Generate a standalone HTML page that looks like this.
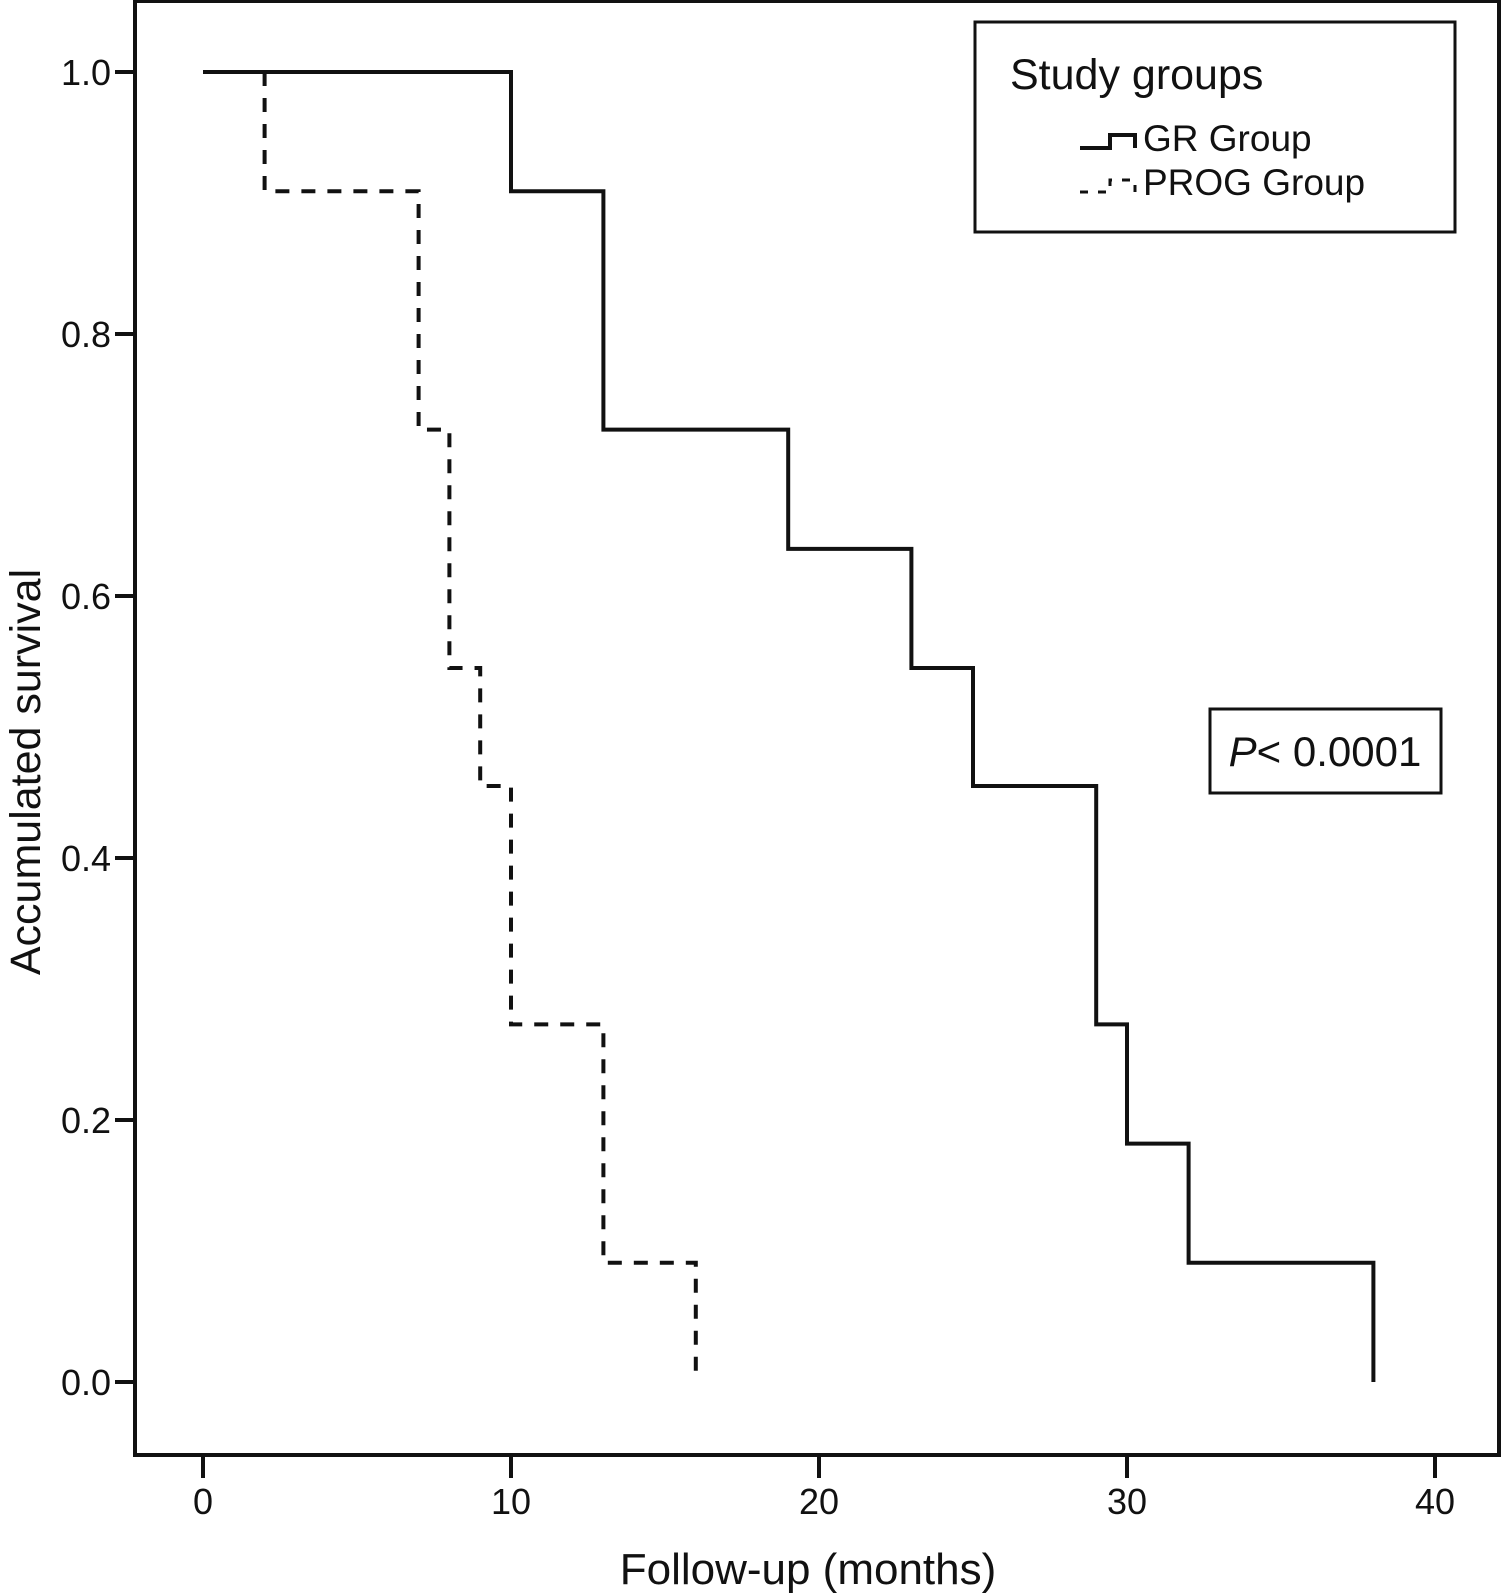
<!DOCTYPE html>
<html><head><meta charset="utf-8"><style>
html,body{margin:0;padding:0;background:#fff;}
svg{display:block;font-family:"Liberation Sans",Arial,sans-serif;}
</style></head><body>
<svg id="chart" width="1502" height="1594" viewBox="0 0 1502 1594">
<rect x="135" y="1" width="1364" height="1454" fill="none" stroke="#111" stroke-width="4"/>
<g id="axes"></g>
<g id="series"></g>
<text x="808" y="1584" font-size="44" text-anchor="middle" fill="#111">Follow-up (months)</text>
<text transform="translate(40,772) rotate(-90)" font-size="43" text-anchor="middle" fill="#111">Accumulated survival</text>
<g>
<rect x="975" y="22" width="480" height="210" fill="none" stroke="#111" stroke-width="3"/>
<text x="1010" y="89" font-size="43" fill="#111">Study groups</text>
<path d="M1080,148 H1110 V135 H1135 V148" fill="none" stroke="#111" stroke-width="4"/>
<text x="1143" y="151" font-size="37" fill="#111">GR Group</text>
<path d="M1080,192 H1110 V180 H1135 V192" fill="none" stroke="#111" stroke-width="3" stroke-dasharray="8,10"/>
<text x="1143" y="195" font-size="37" fill="#111">PROG Group</text>
</g>
<g>
<rect x="1210" y="709" width="231" height="84" fill="none" stroke="#111" stroke-width="3"/>
<text x="1325" y="766" font-size="42" text-anchor="middle" fill="#111"><tspan font-style="italic">P</tspan>&lt; 0.0001</text>
</g>
</svg>
<script>
const xTicks = [0, 10, 20, 30, 40];
const yTicks = [0.0, 0.2, 0.4, 0.6, 0.8, 1.0];
const grTimes = [0, 10, 13, 19, 23, 25, 29, 30, 32, 38];
const grSurv = [1.0, 0.909, 0.727, 0.636, 0.545, 0.455, 0.273, 0.182, 0.091, 0.0];
const progTimes = [2, 7, 8, 9, 10, 13, 16];
const progSurv = [0.909, 0.727, 0.545, 0.455, 0.273, 0.091, 0.0];

const NS = 'http://www.w3.org/2000/svg';
const xs = v => 203 + v * 30.8;
const ys = v => 1382 - v * 1310;
const axes = document.getElementById('axes');
const series = document.getElementById('series');
function mk(tag, attrs, parent) {
  const el = document.createElementNS(NS, tag);
  for (const k in attrs) el.setAttribute(k, attrs[k]);
  parent.appendChild(el);
  return el;
}
xTicks.forEach(t => {
  const l = mk('line', {x1: xs(t), x2: xs(t), y1: 1455, y2: 1478, stroke: '#111', 'stroke-width': 4}, axes);
  
  
  const tx = mk('text', {x: xs(t), y: 1514, 'font-size': 36, 'text-anchor': 'middle', fill: '#111'}, axes);
  tx.textContent = String(t);
  
  
});
yTicks.forEach(t => {
  const l = mk('line', {x1: 115, x2: 135, y1: ys(t), y2: ys(t), stroke: '#111', 'stroke-width': 4}, axes);
  
  
  const tx = mk('text', {x: 111, y: ys(t) + 13, 'font-size': 36, 'text-anchor': 'end', fill: '#111'}, axes);
  tx.textContent = t.toFixed(1);
  
  
});
function stepPath(times, surv, start, startV) {
  let d = 'M' + xs(start) + ',' + ys(startV);
  for (let i = 0; i < times.length; i++) {
    d += ' H' + xs(times[i]) + ' V' + ys(surv[i]);
  }
  return d;
}
const gr = mk('path', {d: stepPath(grTimes.slice(1), grSurv.slice(1), grTimes[0], grSurv[0]), fill: 'none', stroke: '#111', 'stroke-width': 4}, series);


const pg = mk('path', {d: stepPath(progTimes, progSurv, 2, 1.0), fill: 'none', stroke: '#111', 'stroke-width': 4, 'stroke-dasharray': '14,12'}, series);


</script>
</body></html>
